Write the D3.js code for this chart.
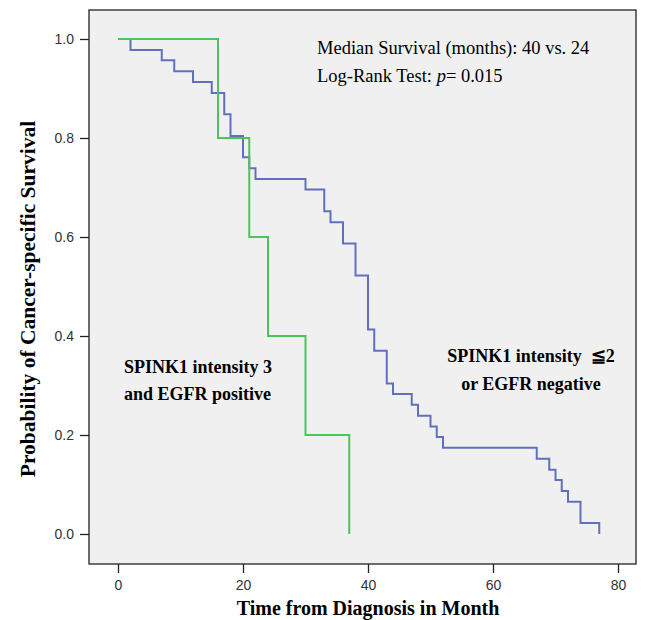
<!DOCTYPE html>
<html><head><meta charset="utf-8">
<script src="https://cdn.jsdelivr.net/npm/d3@7"></script>
<style>body{margin:0;background:#fff}svg{display:block}</style>
</head><body>
<script>
// Kaplan-Meier step data (time in months, survival probability)
const blueTimes = [0,2,7,9,12,15,17,18,20,21,22,30,33,34,36,38,40,41,43,44,47,48,50,51,52,67,69,70,71,72,74,77];
const blueSurv  = [1.0,0.978,0.957,0.935,0.913,0.891,0.848,0.804,0.761,0.739,0.717,0.696,0.652,0.630,0.587,0.522,0.413,0.370,0.304,0.283,0.261,0.239,0.217,0.196,0.174,0.152,0.130,0.109,0.087,0.065,0.022,0.0];
const greenTimes = [0,16,21,24,30,37];
const greenSurv  = [1.0,0.8,0.6,0.4,0.2,0.0];
const xTicks = [0,20,40,60,80];
const yTicks = [0.0,0.2,0.4,0.6,0.8,1.0];
const xTitle = "Time from Diagnosis in Month";
const yTitle = "Probability of Cancer-specific Survival";
const annot1 = "Median Survival (months): 40 vs. 24";
const greenLabel = ["SPINK1 intensity 3","and EGFR positive"];
const blueLabel = ["SPINK1 intensity \u00A0\u22662","or EGFR negative"];

const W=646,H=620;
const svg=d3.select("body").append("svg").attr("width",W).attr("height",H);
const frame={l:89,t:10,r:636,b:564};
const x=d3.scaleLinear().domain([0,80]).range([118,618]);
const y=d3.scaleLinear().domain([0,1]).range([534,39]);

svg.append("rect").attr("x",frame.l).attr("y",frame.t).attr("width",frame.r-frame.l).attr("height",frame.b-frame.t)
  .attr("fill","#f0f0f0").attr("stroke","#222").attr("stroke-width",1.3);

// axes
const yAxis=d3.axisLeft(y).tickValues(yTicks).tickFormat(d3.format(".1f")).tickSize(9).tickSizeOuter(0).tickPadding(6);
const gy=svg.append("g").attr("transform",`translate(${frame.l},0)`).call(yAxis);
gy.select(".domain").remove();
const xAxis=d3.axisBottom(x).tickValues(xTicks).tickSize(9).tickSizeOuter(0).tickPadding(7);
const gx=svg.append("g").attr("transform",`translate(0,${frame.b})`).call(xAxis);
gx.select(".domain").remove();
[gx,gy].forEach(g=>{
  g.selectAll("line").attr("stroke","#222").attr("stroke-width",1.3);
  g.selectAll("text").attr("font-family","Liberation Sans, Arial, sans-serif").attr("font-size",14).attr("fill","#333");
});

const line=d3.line().curve(d3.curveStepAfter).x(d=>x(d[0])).y(d=>y(d[1]));
svg.append("path").datum(blueTimes.map((t,i)=>[t,blueSurv[i]]))
  .attr("d",line).attr("fill","none").attr("stroke","#6070bc").attr("stroke-width",2);
svg.append("path").datum(greenTimes.map((t,i)=>[t,greenSurv[i]]))
  .attr("d",line).attr("fill","none").attr("stroke","#4cc45a").attr("stroke-width",2);

const serif="Liberation Serif, Times New Roman, serif";
svg.append("text").attr("x",368).attr("y",615).attr("text-anchor","middle")
  .attr("font-family",serif).attr("font-weight","bold").attr("font-size",20).text(xTitle);
svg.append("text").attr("transform","translate(35,299) rotate(-90)").attr("text-anchor","middle")
  .attr("font-family",serif).attr("font-weight","bold").attr("font-size",21.5).text(yTitle);

svg.append("text").attr("x",317).attr("y",54).attr("font-family",serif).attr("font-size",18.5).text(annot1);
const t2=svg.append("text").attr("x",317).attr("y",82).attr("font-family",serif).attr("font-size",18.5);
t2.append("tspan").text("Log-Rank Test: ");
t2.append("tspan").attr("font-style","italic").text("p");
t2.append("tspan").text("= 0.015");

greenLabel.forEach((s,i)=>svg.append("text").attr("x",124).attr("y",373+i*27)
  .attr("font-family",serif).attr("font-weight","bold").attr("font-size",18).text(s));
blueLabel.forEach((s,i)=>svg.append("text").attr("x",531).attr("y",362+i*28).attr("text-anchor","middle")
  .attr("font-family",serif).attr("font-weight","bold").attr("font-size",18).text(s));
</script>
</body></html>
